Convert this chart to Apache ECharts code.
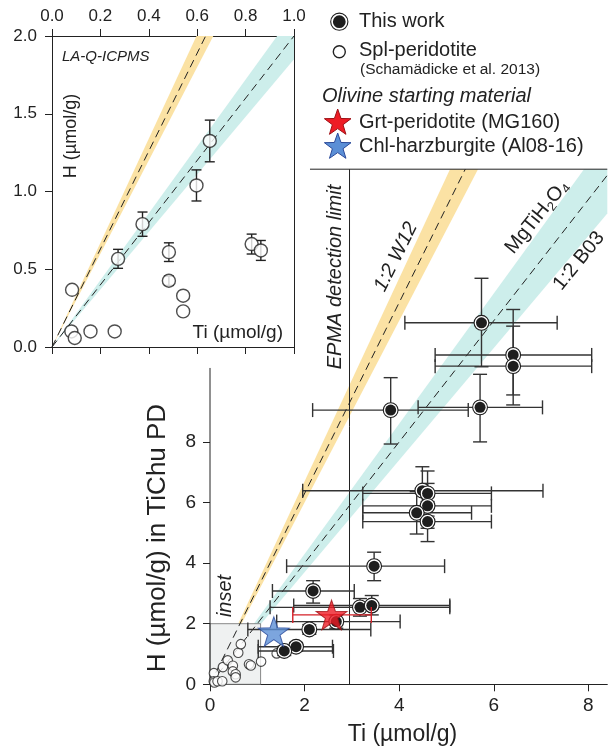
<!DOCTYPE html>
<html><head><meta charset="utf-8">
<script src="https://cdn.jsdelivr.net/npm/echarts@6/dist/echarts.min.js"></script>
<style>html,body{margin:0;padding:0;background:#fff}#c{width:608px;height:752px}</style>
</head><body><div id="c"></div>
<script>
// ---------------- DATA ----------------
// "This work" (main plot): Ti, H and error ranges (µmol/g)
const thisWorkTi   = [5.74, 6.41, 6.41, 3.82, 5.71, 4.49, 4.60, 4.60, 4.37, 4.60, 3.47, 2.18, 3.17, 3.42, 2.67, 2.10, 1.82, 1.57];
const thisWorkH    = [11.93,10.87,10.50, 9.05, 9.14, 6.39, 6.30, 5.89, 5.66, 5.37, 3.90, 3.08, 2.54, 2.60, 2.07, 1.81, 1.24, 1.10];
const thisWorkTiLo = [4.12, 4.76, 4.76, 2.17, 4.40, 1.96, 3.23, 3.23, 3.23, 3.23, 1.62, 1.32, 1.27, 1.77, 1.41, 0.80, 1.02, 1.02];
const thisWorkTiHi = [7.34, 8.07, 8.07, 5.46, 7.03, 7.04, 5.95, 5.95, 5.53, 5.95, 4.96, 3.05, 5.07, 5.07, 4.02, 3.40, 2.59, 2.61];
const thisWorkHLo  = [10.48, 9.55, 9.22, 7.93, 8.00, 5.60, 5.55, 5.15, 4.96, 4.71, 3.42, 2.68, 2.25, 2.29, 1.85, 1.65, 1.10, 0.95];
const thisWorkHHi  = [13.40,12.37,11.82,10.12,10.23, 7.18, 7.04, 6.63, 6.36, 6.03, 4.36, 3.42, 2.83, 2.93, 2.29, 1.97, 1.38, 1.25];

// Spl-peridotite (Schamädicke et al. 2013)
const splTi   = [0.083,0.080,0.094,0.159,0.259,0.273,0.374,0.483,0.483,0.542,0.542,0.597,0.652,0.825,0.863,1.08,1.41];
const splH    = [0.368,0.100,0.058,0.100,0.100,0.567,0.790,0.610,0.426,0.330,0.229,1.039,1.325,0.662,0.621,0.75,1.02];
const splHErr = [0,    0,    0,    0,    0,    0.061,0.078,0.060,0.030,0,    0,    0.100,0.134,0.064,0.064,0,   0];

// Olivine starting material
const grtTi = [2.57], grtH = [2.29], grtTiLo = [1.75], grtTiHi = [3.41];
const chlTi = [1.35], chlH = [1.74];

// Reference lines (H/Ti slopes) and bands
const slopeW12 = 3.15, bandW12 = [3.0, 3.35];
const slopeB03 = 2.0,  bandB03 = [1.85, 2.15];
const epmaLimitTi = 2.95;
const insetBoxTi = 1.07, insetBoxH = 2.0;

// Axis ranges / ticks
const MAIN_X_MAX = 8.4, MAIN_Y_MAX = 17, MAIN_Y_AXIS_TOP = 10.44;
const INSET_X_MAX = 1.0, INSET_Y_MAX = 2.0;
const mainXTicks = [0, 2, 4, 6, 8];
const mainYTicks = [0, 2, 4, 6, 8];
const topBorderStartTi = 2.114;

// ---------------- HELPERS ----------------
const FONT = "'Liberation Sans', Arial, Helvetica, sans-serif";
const INK = '#222';
const ORANGE = '#fbe2a4', CYAN = '#cdeeeb';

function rayEnd(s, xmax, ymax) { return s * xmax <= ymax ? [xmax, s * xmax] : [ymax / s, ymax]; }
function bandPoly(lo, hi, xmax, ymax) {
  const a = rayEnd(hi, xmax, ymax), b = rayEnd(lo, xmax, ymax);
  const pts = [[0, 0], a];
  if (a[1] >= ymax - 1e-9 && b[0] >= xmax - 1e-9 && b[1] < ymax) pts.push([xmax, ymax]);
  pts.push(b);
  return pts;
}
function bandSeries(band, color, xi, yi, xmax, ymax, z) {
  return { type: 'custom', xAxisIndex: xi, yAxisIndex: yi, z: z, silent: true,
    data: [[band[0], band[1]]],
    renderItem: (p, api) => ({ type: 'polygon',
      shape: { points: bandPoly(api.value(0), api.value(1), xmax, ymax).map(q => api.coord(q)) },
      style: { fill: color } }) };
}
function dashSeries(s, xi, yi, xmax, ymax) {
  return { type: 'line', xAxisIndex: xi, yAxisIndex: yi, z: 4, silent: true, symbol: 'none',
    data: [[0, 0], rayEnd(s, xmax, ymax)],
    lineStyle: { color: INK, width: 1, type: [8, 5] } };
}
function solidLine(data, xi, yi, z) {
  return { type: 'line', xAxisIndex: xi, yAxisIndex: yi, z: z || 4, silent: true, symbol: 'none', clip: false,
    data: data, lineStyle: { color: INK, width: 1 } };
}
function errorBarSeries(rows, xi, yi, cap, color, z) {
  return { type: 'custom', xAxisIndex: xi, yAxisIndex: yi, z: z, silent: true, data: rows,
    renderItem: (p, api) => {
      const x = api.value(0), y = api.value(1);
      const xlo = api.value(2), xhi = api.value(3), ylo = api.value(4), yhi = api.value(5);
      const st = { stroke: color, lineWidth: 1.4, fill: null };
      const ch = [];
      if (xhi > xlo) {
        const a = api.coord([xlo, y]), b = api.coord([xhi, y]);
        ch.push({ type: 'line', shape: { x1: a[0], y1: a[1], x2: b[0], y2: b[1] }, style: st });
        ch.push({ type: 'line', shape: { x1: a[0], y1: a[1] - cap, x2: a[0], y2: a[1] + cap }, style: st });
        ch.push({ type: 'line', shape: { x1: b[0], y1: b[1] - cap, x2: b[0], y2: b[1] + cap }, style: st });
      }
      if (yhi > ylo) {
        const a = api.coord([x, ylo]), b = api.coord([x, yhi]);
        ch.push({ type: 'line', shape: { x1: a[0], y1: a[1], x2: b[0], y2: b[1] }, style: st });
        ch.push({ type: 'line', shape: { x1: a[0] - cap, y1: a[1], x2: a[0] + cap, y2: a[1] }, style: st });
        ch.push({ type: 'line', shape: { x1: b[0] - cap, y1: b[1], x2: b[0] + cap, y2: b[1] }, style: st });
      }
      return { type: 'group', children: ch };
    } };
}
function starPoints(cx, cy, R) {
  const pts = [];
  for (let i = 0; i < 10; i++) {
    const r = i % 2 === 0 ? R : R * 0.4;
    const a = -Math.PI / 2 + i * Math.PI / 5;
    pts.push([cx + r * Math.cos(a), cy + r * Math.sin(a)]);
  }
  return pts;
}
const STAR_PATH = 'path://M0,-10L2.35,-3.24L9.51,-3.09L3.8,1.24L5.88,8.09L0,4L-5.88,8.09L-3.8,1.24L-9.51,-3.09L-2.35,-3.24Z';

// Build rows
const thisWorkRows = thisWorkTi.map((t, i) => [t, thisWorkH[i], thisWorkTiLo[i], thisWorkTiHi[i], thisWorkHLo[i], thisWorkHHi[i]]);
const splRowsInset = splTi.map((t, i) => [t, splH[i], t, t, splH[i] - splHErr[i], splH[i] + splHErr[i]])
  .filter(r => r[0] <= INSET_X_MAX);
const splPoints = splTi.map((t, i) => [t, splH[i]]);
const grtRows = grtTi.map((t, i) => [t, grtH[i], grtTiLo[i], grtTiHi[i], 0, 0]);

function axisCommon(extra) {
  return Object.assign({ type: 'value', splitLine: { show: false },
    axisLine: { show: true, onZero: false, lineStyle: { color: INK, width: 1 } },
    axisTick: { show: true, inside: false, length: 7, lineStyle: { color: INK, width: 1 } },
    axisLabel: { color: INK, fontFamily: FONT, fontSize: 17 } }, extra);
}

const txt = (t, x, y, size, opts) => Object.assign({ type: 'text', x: x, y: y, silent: true,
  style: Object.assign({ text: t, fill: INK, font: (opts && opts.italic ? 'italic ' : '') + size + 'px ' + FONT,
    textAlign: (opts && opts.align) || 'center', textVerticalAlign: 'middle',
    align: (opts && opts.align) || 'center', verticalAlign: 'middle' }, (opts && opts.style) || {}) },
  opts && opts.rot !== undefined ? { rotation: opts.rot } : {});

const deg = d => d * Math.PI / 180;

const option = {
  animation: false,
  backgroundColor: '#fff',
  grid: [
    { left: 52, top: 36, width: 242, height: 311 },
    { left: 210, top: 169.2, width: 397.3, height: 515.1 }
  ],
  xAxis: [
    axisCommon({ gridIndex: 0, min: 0, max: INSET_X_MAX, interval: 0.2, position: 'top',
      axisLabel: { color: INK, fontFamily: FONT, fontSize: 17, margin: 11, formatter: v => v.toFixed(1) } }),
    axisCommon({ gridIndex: 0, min: 0, max: INSET_X_MAX, interval: 0.2, position: 'bottom',
      axisLabel: { show: false } }),
    axisCommon({ gridIndex: 1, min: 0, max: MAIN_X_MAX, position: 'bottom',
      axisTick: { show: true, inside: false, length: 7, customValues: mainXTicks, lineStyle: { color: INK } },
      axisLabel: { color: INK, fontFamily: FONT, fontSize: 19, margin: 12, customValues: mainXTicks } })
  ],
  yAxis: [
    axisCommon({ gridIndex: 0, min: 0, max: INSET_Y_MAX, interval: 0.5, position: 'left',
      axisLabel: { color: INK, fontFamily: FONT, fontSize: 17, margin: 15, formatter: v => v.toFixed(1) } }),
    axisCommon({ gridIndex: 0, min: 0, max: INSET_Y_MAX, position: 'right',
      axisTick: { show: false }, axisLabel: { show: false } }),
    axisCommon({ gridIndex: 1, min: 0, max: MAIN_Y_MAX, position: 'left',
      axisLine: { show: false },
      axisTick: { show: true, inside: false, length: 7, customValues: mainYTicks, lineStyle: { color: INK } },
      axisLabel: { color: INK, fontFamily: FONT, fontSize: 19, margin: 14, customValues: mainYTicks } })
  ],
  series: [
    // ---- main plot ----
    bandSeries(bandW12, ORANGE, 2, 2, MAIN_X_MAX, MAIN_Y_MAX, 1),
    bandSeries(bandB03, CYAN, 2, 2, MAIN_X_MAX, MAIN_Y_MAX, 1),
    { type: 'custom', xAxisIndex: 2, yAxisIndex: 2, z: 2, silent: true,
      data: [[0, 0, insetBoxTi, insetBoxH]],
      renderItem: (p, api) => {
        const a = api.coord([api.value(0), api.value(1)]), b = api.coord([api.value(2), api.value(3)]);
        return { type: 'rect', shape: { x: a[0], y: b[1], width: b[0] - a[0], height: a[1] - b[1] },
          style: { fill: '#eff1f1', stroke: '#6a6a6a', lineWidth: 0.8 } };
      } },
    solidLine([[epmaLimitTi, 0], [epmaLimitTi, MAIN_Y_MAX]], 2, 2, 3),
    solidLine([[0, 0], [0, MAIN_Y_AXIS_TOP]], 2, 2, 3),
    solidLine([[topBorderStartTi, MAIN_Y_MAX], [MAIN_X_MAX, MAIN_Y_MAX]], 2, 2, 3),
    dashSeries(slopeW12, 2, 2, MAIN_X_MAX, MAIN_Y_MAX),
    dashSeries(slopeB03, 2, 2, MAIN_X_MAX, MAIN_Y_MAX),
    { type: 'scatter', xAxisIndex: 2, yAxisIndex: 2, z: 5, silent: true, data: splPoints,
      symbol: 'circle', symbolSize: 9.5, itemStyle: { color: '#fff', borderColor: INK, borderWidth: 1.1 } },
    errorBarSeries(thisWorkRows, 2, 2, 7, '#333', 6),
    { type: 'custom', xAxisIndex: 2, yAxisIndex: 2, z: 7, silent: true, data: thisWorkRows,
      renderItem: (p, api) => {
        const c = api.coord([api.value(0), api.value(1)]);
        return { type: 'group', children: [
          { type: 'circle', shape: { cx: c[0], cy: c[1], r: 7.4 }, style: { fill: '#fff', stroke: '#1e1e1e', lineWidth: 1.1 } },
          { type: 'circle', shape: { cx: c[0], cy: c[1], r: 5.5 }, style: { fill: '#1e1e1e' } }
        ] };
      } },
    errorBarSeries(grtRows, 2, 2, 8, '#d42027', 8),
    { type: 'scatter', xAxisIndex: 2, yAxisIndex: 2, z: 9, silent: true, data: grtTi.map((t, i) => [t, grtH[i]]),
      symbol: STAR_PATH, symbolSize: [31, 29.5], itemStyle: { color: '#ee1c25', borderColor: '#9e1015', borderWidth: 1 } },
    { type: 'scatter', xAxisIndex: 2, yAxisIndex: 2, z: 9, silent: true, data: chlTi.map((t, i) => [t, chlH[i]]),
      symbol: STAR_PATH, symbolSize: [31, 29.5], itemStyle: { color: '#5b8fd6', borderColor: '#2b4a9a', borderWidth: 1 } },

    // ---- inset ----
    bandSeries(bandW12, ORANGE, 0, 0, INSET_X_MAX, INSET_Y_MAX, 1),
    bandSeries(bandB03, CYAN, 0, 0, INSET_X_MAX, INSET_Y_MAX, 1),
    dashSeries(slopeW12, 0, 0, INSET_X_MAX, INSET_Y_MAX),
    dashSeries(slopeB03, 0, 0, INSET_X_MAX, INSET_Y_MAX),
    errorBarSeries(splRowsInset, 0, 0, 5, INK, 5),
    { type: 'scatter', xAxisIndex: 0, yAxisIndex: 0, z: 6, silent: true, clip: true, data: splPoints,
      symbol: 'circle', symbolSize: 13, itemStyle: { color: '#fff', borderColor: INK, borderWidth: 1.4 } }
  ],
  graphic: [
    // inset labels
    txt('LA-Q-ICPMS', 62, 57, 15, { italic: true, align: 'left' }),
    txt('H (µmol/g)', 71, 136, 18, { rot: deg(90) }),
    txt('Ti (µmol/g)', 283, 333, 19, { align: 'right' }),
    // main axis titles
    txt('Ti (µmol/g)', 402.5, 735, 23),
    txt('H (µmol/g) in TiChu PD', 158, 538, 26, { rot: deg(90) }),
    // main annotations
    txt('EPMA detection limit', 335, 277, 20, { italic: true, rot: deg(90) }),
    txt('1:2 W12', 396, 257, 20, { italic: true, rot: deg(63.6) }),
    { type: 'text', x: 537, y: 217, rotation: deg(51), silent: true,
      style: { text: '{n|MgTiH}{s|2}{n|O}{s|4}', fill: INK, textAlign: 'center', textVerticalAlign: 'middle',
        align: 'center', verticalAlign: 'middle',
        rich: { n: { fontSize: 20, fontFamily: FONT, fill: INK, lineHeight: 24, verticalAlign: 'middle' },
                s: { fontSize: 13, fontFamily: FONT, fill: INK, lineHeight: 24, verticalAlign: 'bottom' } } } },
    txt('1:2 B03', 579, 261, 20, { rot: deg(51) }),
    txt('inset', 225, 596, 20, { italic: true, rot: deg(90) }),
    // legend
    { type: 'circle', silent: true, shape: { cx: 339.3, cy: 21.7, r: 8.6 }, style: { fill: '#fff', stroke: '#1e1e1e', lineWidth: 1.1 } },
    { type: 'circle', silent: true, shape: { cx: 339.3, cy: 21.7, r: 6.4 }, style: { fill: '#1e1e1e' } },
    txt('This work', 359, 21, 20, { align: 'left' }),
    { type: 'circle', silent: true, shape: { cx: 339.3, cy: 51.7, r: 6 }, style: { fill: '#fff', stroke: INK, lineWidth: 1.4 } },
    txt('Spl-peridotite', 359, 50, 20, { align: 'left' }),
    txt('(Schamädicke et al. 2013)', 360, 70, 15.5, { align: 'left' }),
    txt('Olivine starting material', 322, 96, 20, { italic: true, align: 'left' }),
    { type: 'polygon', silent: true, shape: { points: starPoints(337.7, 123, 14) }, style: { fill: '#ee1c25', stroke: '#9e1015', lineWidth: 1 } },
    txt('Grt-peridotite (MG160)', 359, 122, 20, { align: 'left' }),
    { type: 'polygon', silent: true, shape: { points: starPoints(337.7, 147, 14) }, style: { fill: '#5b8fd6', stroke: '#2b4a9a', lineWidth: 1 } },
    txt('Chl-harzburgite (Al08-16)', 359, 146, 20, { align: 'left' })
  ]
};

const chart = echarts.init(document.getElementById('c'), null, { renderer: 'canvas' });
chart.setOption(option);
</script></body></html>
